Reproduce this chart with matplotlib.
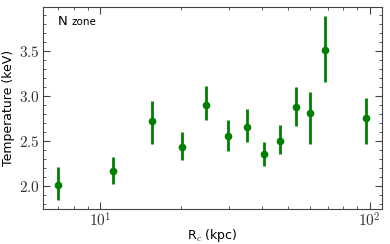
import math
import matplotlib
matplotlib.use("Agg")
import matplotlib.pyplot as plt
from matplotlib.ticker import FuncFormatter, MultipleLocator, LogLocator, NullFormatter

plt.rcParams['mathtext.fontset'] = 'cm'

# Data
radius = [7.0, 11.2, 15.6, 20.1, 24.8, 29.9, 35.1, 40.7, 46.6, 53.2, 60.1, 68.1, 97.2]
temp = [2.01, 2.16, 2.72, 2.43, 2.90, 2.55, 2.65, 2.35, 2.50, 2.88, 2.81, 3.51, 2.75]
temp_hi = [2.21, 2.32, 2.94, 2.60, 3.11, 2.73, 2.85, 2.49, 2.68, 3.10, 3.04, 3.89, 2.98]
temp_lo = [1.84, 2.02, 2.47, 2.29, 2.73, 2.39, 2.49, 2.22, 2.35, 2.67, 2.46, 3.16, 2.46]

err_lo = [t - l for t, l in zip(temp, temp_lo)]
err_hi = [h - t for t, h in zip(temp, temp_hi)]

fig = plt.figure(figsize=(3.9, 2.44), dpi=100)
ax = fig.add_axes([0.110, 0.143, 0.869, 0.828])

ax.errorbar(radius, temp, yerr=[err_lo, err_hi], fmt='o', color='green',
            markersize=4.5, elinewidth=2, capsize=0)

ax.set_xscale('log')
ax.set_xlim(6.15, 111)
ax.set_ylim(1.74, 3.99)

# Ticks
ax.yaxis.set_major_locator(MultipleLocator(0.5))
ax.yaxis.set_minor_locator(MultipleLocator(0.1))
ax.yaxis.set_major_formatter(FuncFormatter(lambda v, p: r'$%.1f$' % v))
ax.xaxis.set_major_locator(LogLocator(base=10))
ax.xaxis.set_major_formatter(FuncFormatter(lambda v, p: r'$10^{%d}$' % round(math.log10(v))))
ax.xaxis.set_minor_formatter(NullFormatter())
ax.tick_params(which='both', direction='in', top=True, right=True, labelsize=11,
               colors='#444444', labelcolor='#333333', pad=2)
ax.tick_params(which='major', length=5)
ax.tick_params(which='minor', length=2.5)
for s in ax.spines.values():
    s.set_color('#444444')

ax.set_xlabel(r'R$_c$ (kpc)', fontsize=9, labelpad=-2)
ax.set_ylabel('Temperature (keV)', fontsize=9, labelpad=3)
ax.text(0.045, 0.93, 'N', transform=ax.transAxes, fontsize=9.5, va='center')
ax.text(0.085, 0.925, 'zone', transform=ax.transAxes, fontsize=7.5, va='center')

fig.savefig('out.png', dpi=100)
